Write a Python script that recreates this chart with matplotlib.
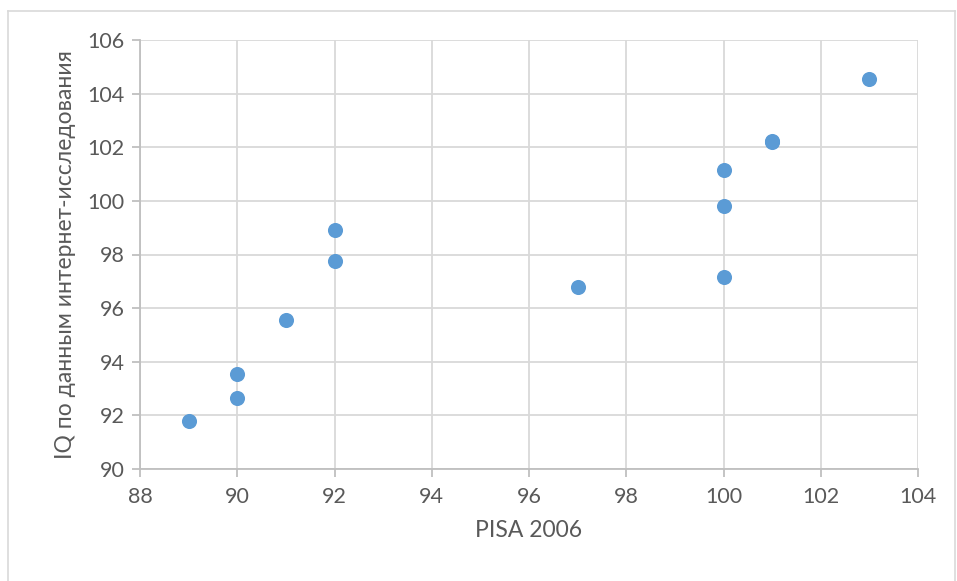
import matplotlib.pyplot as plt
from matplotlib.lines import Line2D

# PISA 2006 score vs IQ from internet study
pisa = [89, 90, 90, 91, 92, 92, 97, 100, 100, 100, 101, 101, 103]
iq = [91.8, 92.65, 93.55, 95.55, 97.75, 98.9, 96.8, 97.15, 99.8, 101.15, 102.2, 102.25, 104.55]

x_ticks = [88, 90, 92, 94, 96, 98, 100, 102, 104]
y_ticks = [90, 92, 94, 96, 98, 100, 102, 104, 106]

plt.rcParams['font.family'] = ['Lato', 'Open Sans', 'DejaVu Sans']

grid_col = '#d9d9d9'
text_col = '#595959'

fig = plt.figure(figsize=(9.57, 5.81), dpi=100)
ax = fig.add_axes([140 / 957, 1 - 469 / 581, (918 - 140) / 957, (469 - 40) / 581])

ax.scatter(pisa, iq, s=118, color='#5b9bd5', zorder=3, linewidths=0)

ax.set_xlim(88, 104)
ax.set_ylim(90, 106)
ax.set_xticks(x_ticks)
ax.set_yticks(y_ticks)
ax.grid(True, color=grid_col, linewidth=1.3)
ax.set_axisbelow(True)

for side in ['top', 'right']:
    ax.spines[side].set_visible(False)
for side in ['bottom', 'left']:
    ax.spines[side].set_color('#bfbfbf')
    ax.spines[side].set_linewidth(1.3)

ax.tick_params(axis='both', colors='#bfbfbf', labelcolor=text_col,
               labelsize=15.5, length=6, width=1.3)
ax.tick_params(axis='x', pad=7)
ax.tick_params(axis='y', pad=5)

ax.set_xlabel('PISA 2006', fontsize=16.5, color=text_col, labelpad=9)
ax.set_ylabel('IQ по данным интернет-исследования', fontsize=16.5,
              color=text_col, labelpad=8)

# outer chart frame
frame_col = '#d9d9d9'
x0, x1 = 8 / 957, 955 / 957
y_top = 1 - 11 / 581
fig.add_artist(Line2D([x0, x0], [0, y_top], color=frame_col, lw=1.2, transform=fig.transFigure))
fig.add_artist(Line2D([x0, x1], [y_top, y_top], color=frame_col, lw=1.2, transform=fig.transFigure))
fig.add_artist(Line2D([x1, x1], [0, y_top], color=frame_col, lw=1.2, transform=fig.transFigure))

fig.savefig('out.png', dpi=100)
